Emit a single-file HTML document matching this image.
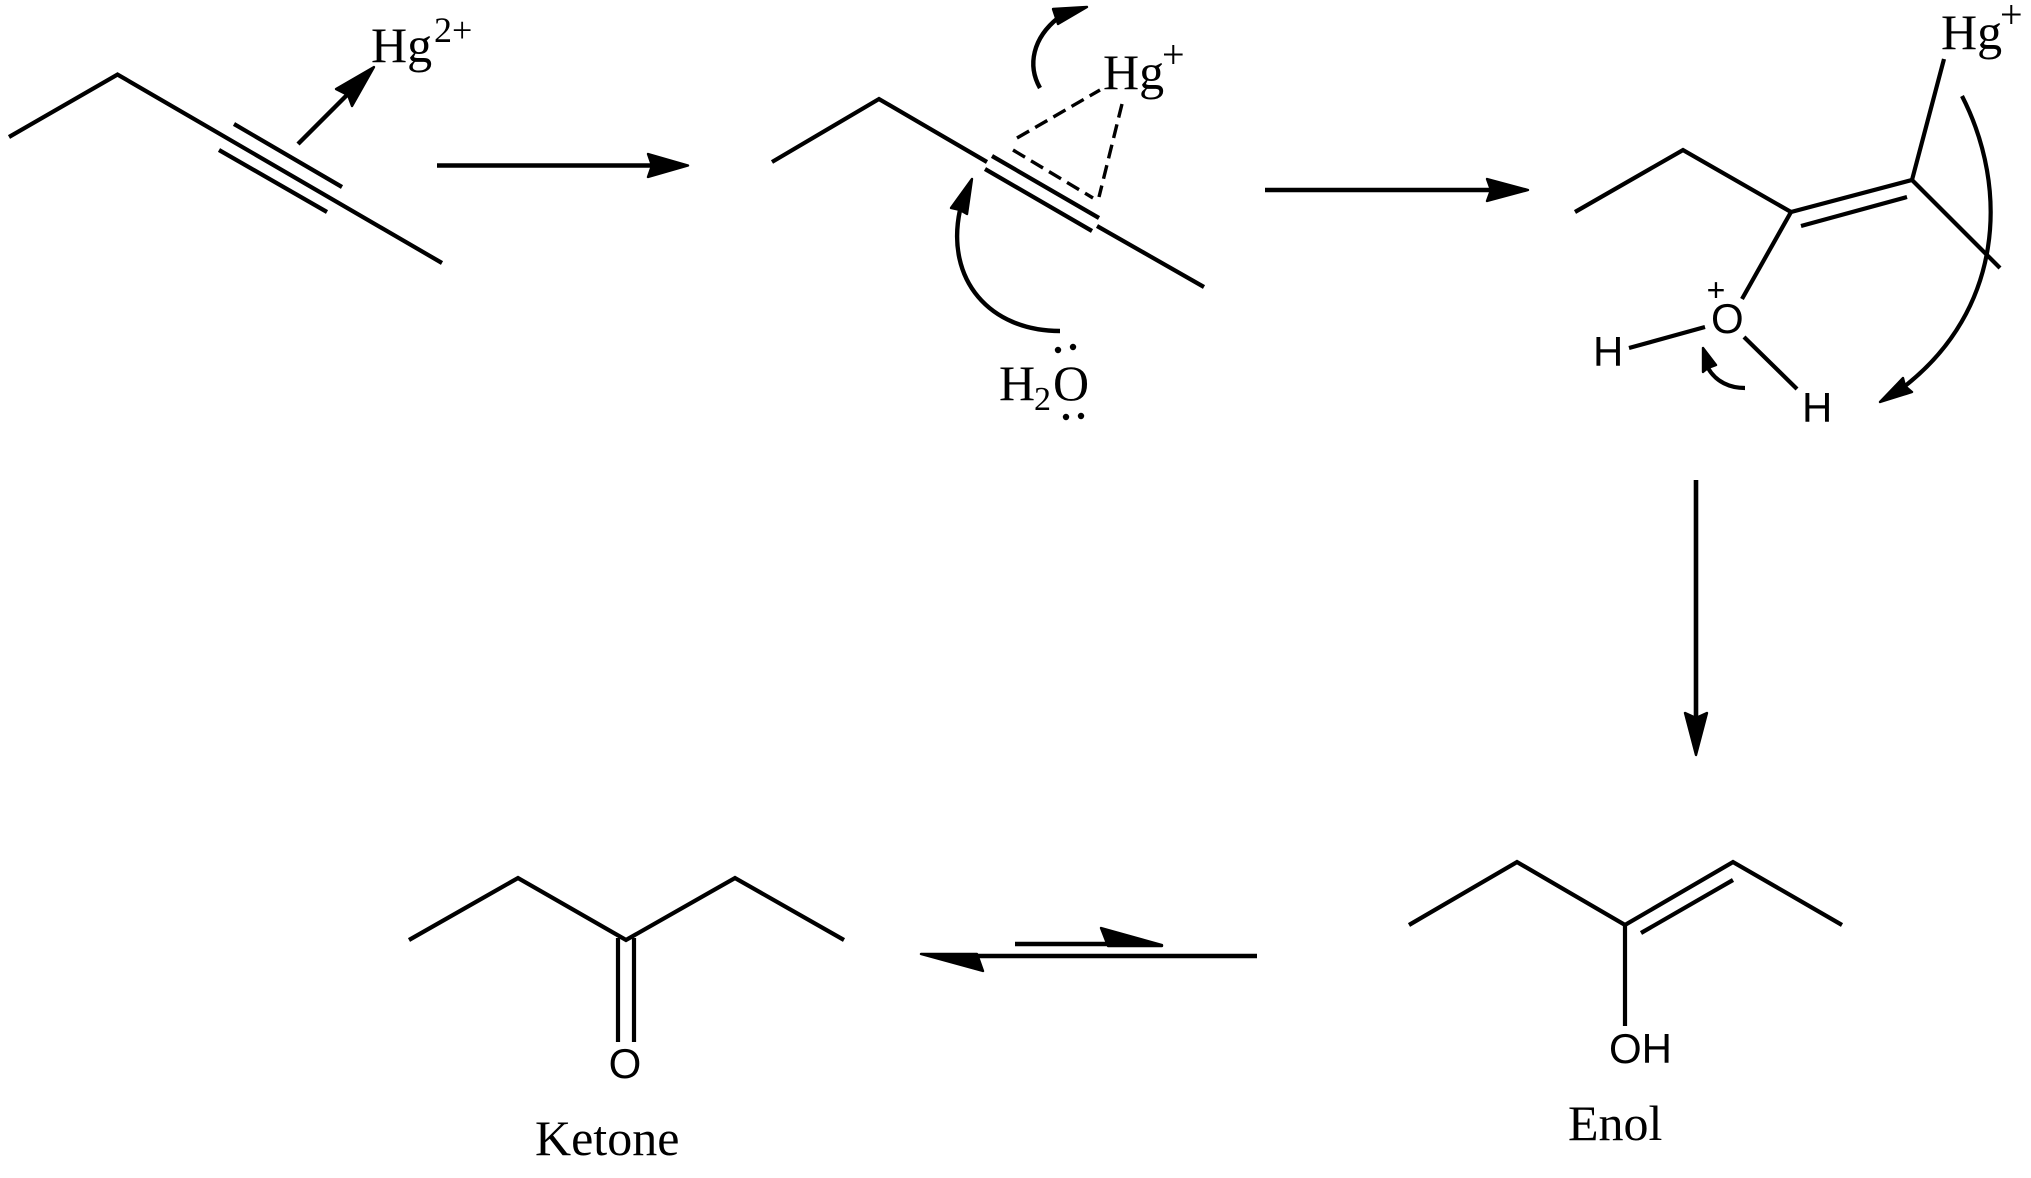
<!DOCTYPE html>
<html><head><meta charset="utf-8"><style>html,body{margin:0;padding:0;background:#fff}svg{display:block}
.s{font-family:"Liberation Serif",serif;fill:#000}.a{font-family:"Liberation Sans",sans-serif;fill:#000}</style></head>
<body><svg width="2031" height="1178" viewBox="0 0 2031 1178" xmlns="http://www.w3.org/2000/svg">
<rect width="2031" height="1178" fill="#fff"/>
<g fill="none" stroke="#000" stroke-width="4.2">
<polyline points="9,137 117.5,74.5 442,263"/>
<line x1="234" y1="124" x2="342" y2="187"/>
<line x1="219" y1="150" x2="327" y2="212"/>
<line x1="298" y1="144" x2="348" y2="94" stroke-width="4.4"/>
<line x1="437" y1="165.5" x2="655" y2="165.5" stroke-width="4.6"/>
<polyline points="772,162 879,99 987,162"/>
<line x1="992" y1="156" x2="1099" y2="218"/>
<line x1="985" y1="169" x2="1092" y2="231"/>
<line x1="1097" y1="226" x2="1204" y2="287"/>
<g stroke-dasharray="14 7" stroke-width="3.4">
<line x1="1013" y1="150" x2="1093" y2="198"/>
<line x1="1017" y1="138" x2="1100" y2="90"/>
<line x1="1122" y1="104" x2="1099" y2="197"/>
</g>
<path d="M1040 88 C1027 65 1033 38 1058 18" stroke-width="4.4"/>
<path d="M1060 331 C990 331 945 280 960 210" stroke-width="4.4"/>
<line x1="1265" y1="190" x2="1492" y2="190" stroke-width="4.6"/>
<polyline points="1575,212 1683,150 1791,212 1912,180 2000,268"/>
<line x1="1801" y1="226" x2="1907" y2="197"/>
<line x1="1912" y1="180" x2="1944" y2="59"/>
<line x1="1791" y1="212" x2="1742" y2="299"/>
<line x1="1705" y1="327" x2="1629" y2="348"/>
<line x1="1744" y1="337" x2="1797" y2="389"/>
<path d="M1962 96 C2010 190 2002 310 1905 386" stroke-width="4.2"/>
<path d="M1745 388 C1730 388 1716 382 1708 368" stroke-width="4.2"/>
<line x1="1696" y1="480" x2="1696" y2="718" stroke-width="4.6"/>
<polyline points="1409,925 1517,862 1625,925 1733,862 1842,925"/>
<line x1="1641" y1="933" x2="1733" y2="880"/>
<line x1="1625" y1="925" x2="1625" y2="1026"/>
<polyline points="409,940 518,878 626,940 735,878 844,940"/>
<line x1="618" y1="938" x2="618" y2="1042"/>
<line x1="634" y1="938" x2="634" y2="1042"/>
<line x1="1015" y1="944" x2="1110" y2="944" stroke-width="4.6"/>
<line x1="1257" y1="956" x2="975" y2="956" stroke-width="4.6"/>
</g>
<g fill="#000" stroke="#000" stroke-width="2.4" stroke-linejoin="round">
<polygon points="374,67 336,89 348,95 352,106"/>
<polygon points="688,165.5 648,154 652,165.5 648,177"/>
<polygon points="1087,7 1053,9 1056,18 1058,24"/>
<polygon points="972,179 951,208 960,210 967,214"/>
<polygon points="1528,190 1487,179 1491,190 1487,201"/>
<polygon points="1880,402 1903,378 1905,386 1912,392"/>
<polygon points="1703,348 1703,372 1708,368 1716,365"/>
<polygon points="1696,755 1685,713 1696,718 1707,713"/>
<polygon points="1162,945 1101,928 1108,946 1162,946"/>
<polygon points="921,954 977,954 983,971"/>
<circle cx="1058" cy="350" r="2" /><circle cx="1073" cy="347" r="2"/>
<circle cx="1066" cy="417" r="2"/><circle cx="1081" cy="416" r="2"/>
</g>
<text class="s" x="371" y="62" font-size="50">Hg</text>
<text class="s" x="434" y="42" font-size="36">2+</text>
<text class="s" x="1103" y="89" font-size="50">Hg</text>
<text class="s" x="1162" y="68" font-size="40">+</text>
<text class="s" x="1941" y="49" font-size="50">Hg</text>
<text class="s" x="2000" y="28" font-size="40">+</text>
<text class="s" x="999" y="400" font-size="50">H</text>
<text class="s" x="1034" y="410" font-size="34">2</text>
<text class="s" x="1053" y="400" font-size="50">O</text>
<text class="a" x="1716" y="301" font-size="32" text-anchor="middle">+</text>
<text class="a" x="1711" y="333" font-size="42">O</text>
<text class="a" x="1593" y="366" font-size="42">H</text>
<text class="a" x="1802" y="422" font-size="42">H</text>
<text class="a" x="1609" y="1063" font-size="42">OH</text>
<text class="a" x="625" y="1078" font-size="42" text-anchor="middle">O</text>
<text class="s" x="535" y="1155" font-size="50">Ketone</text>
<text class="s" x="1568" y="1140" font-size="50">Enol</text>
</svg></body></html>
